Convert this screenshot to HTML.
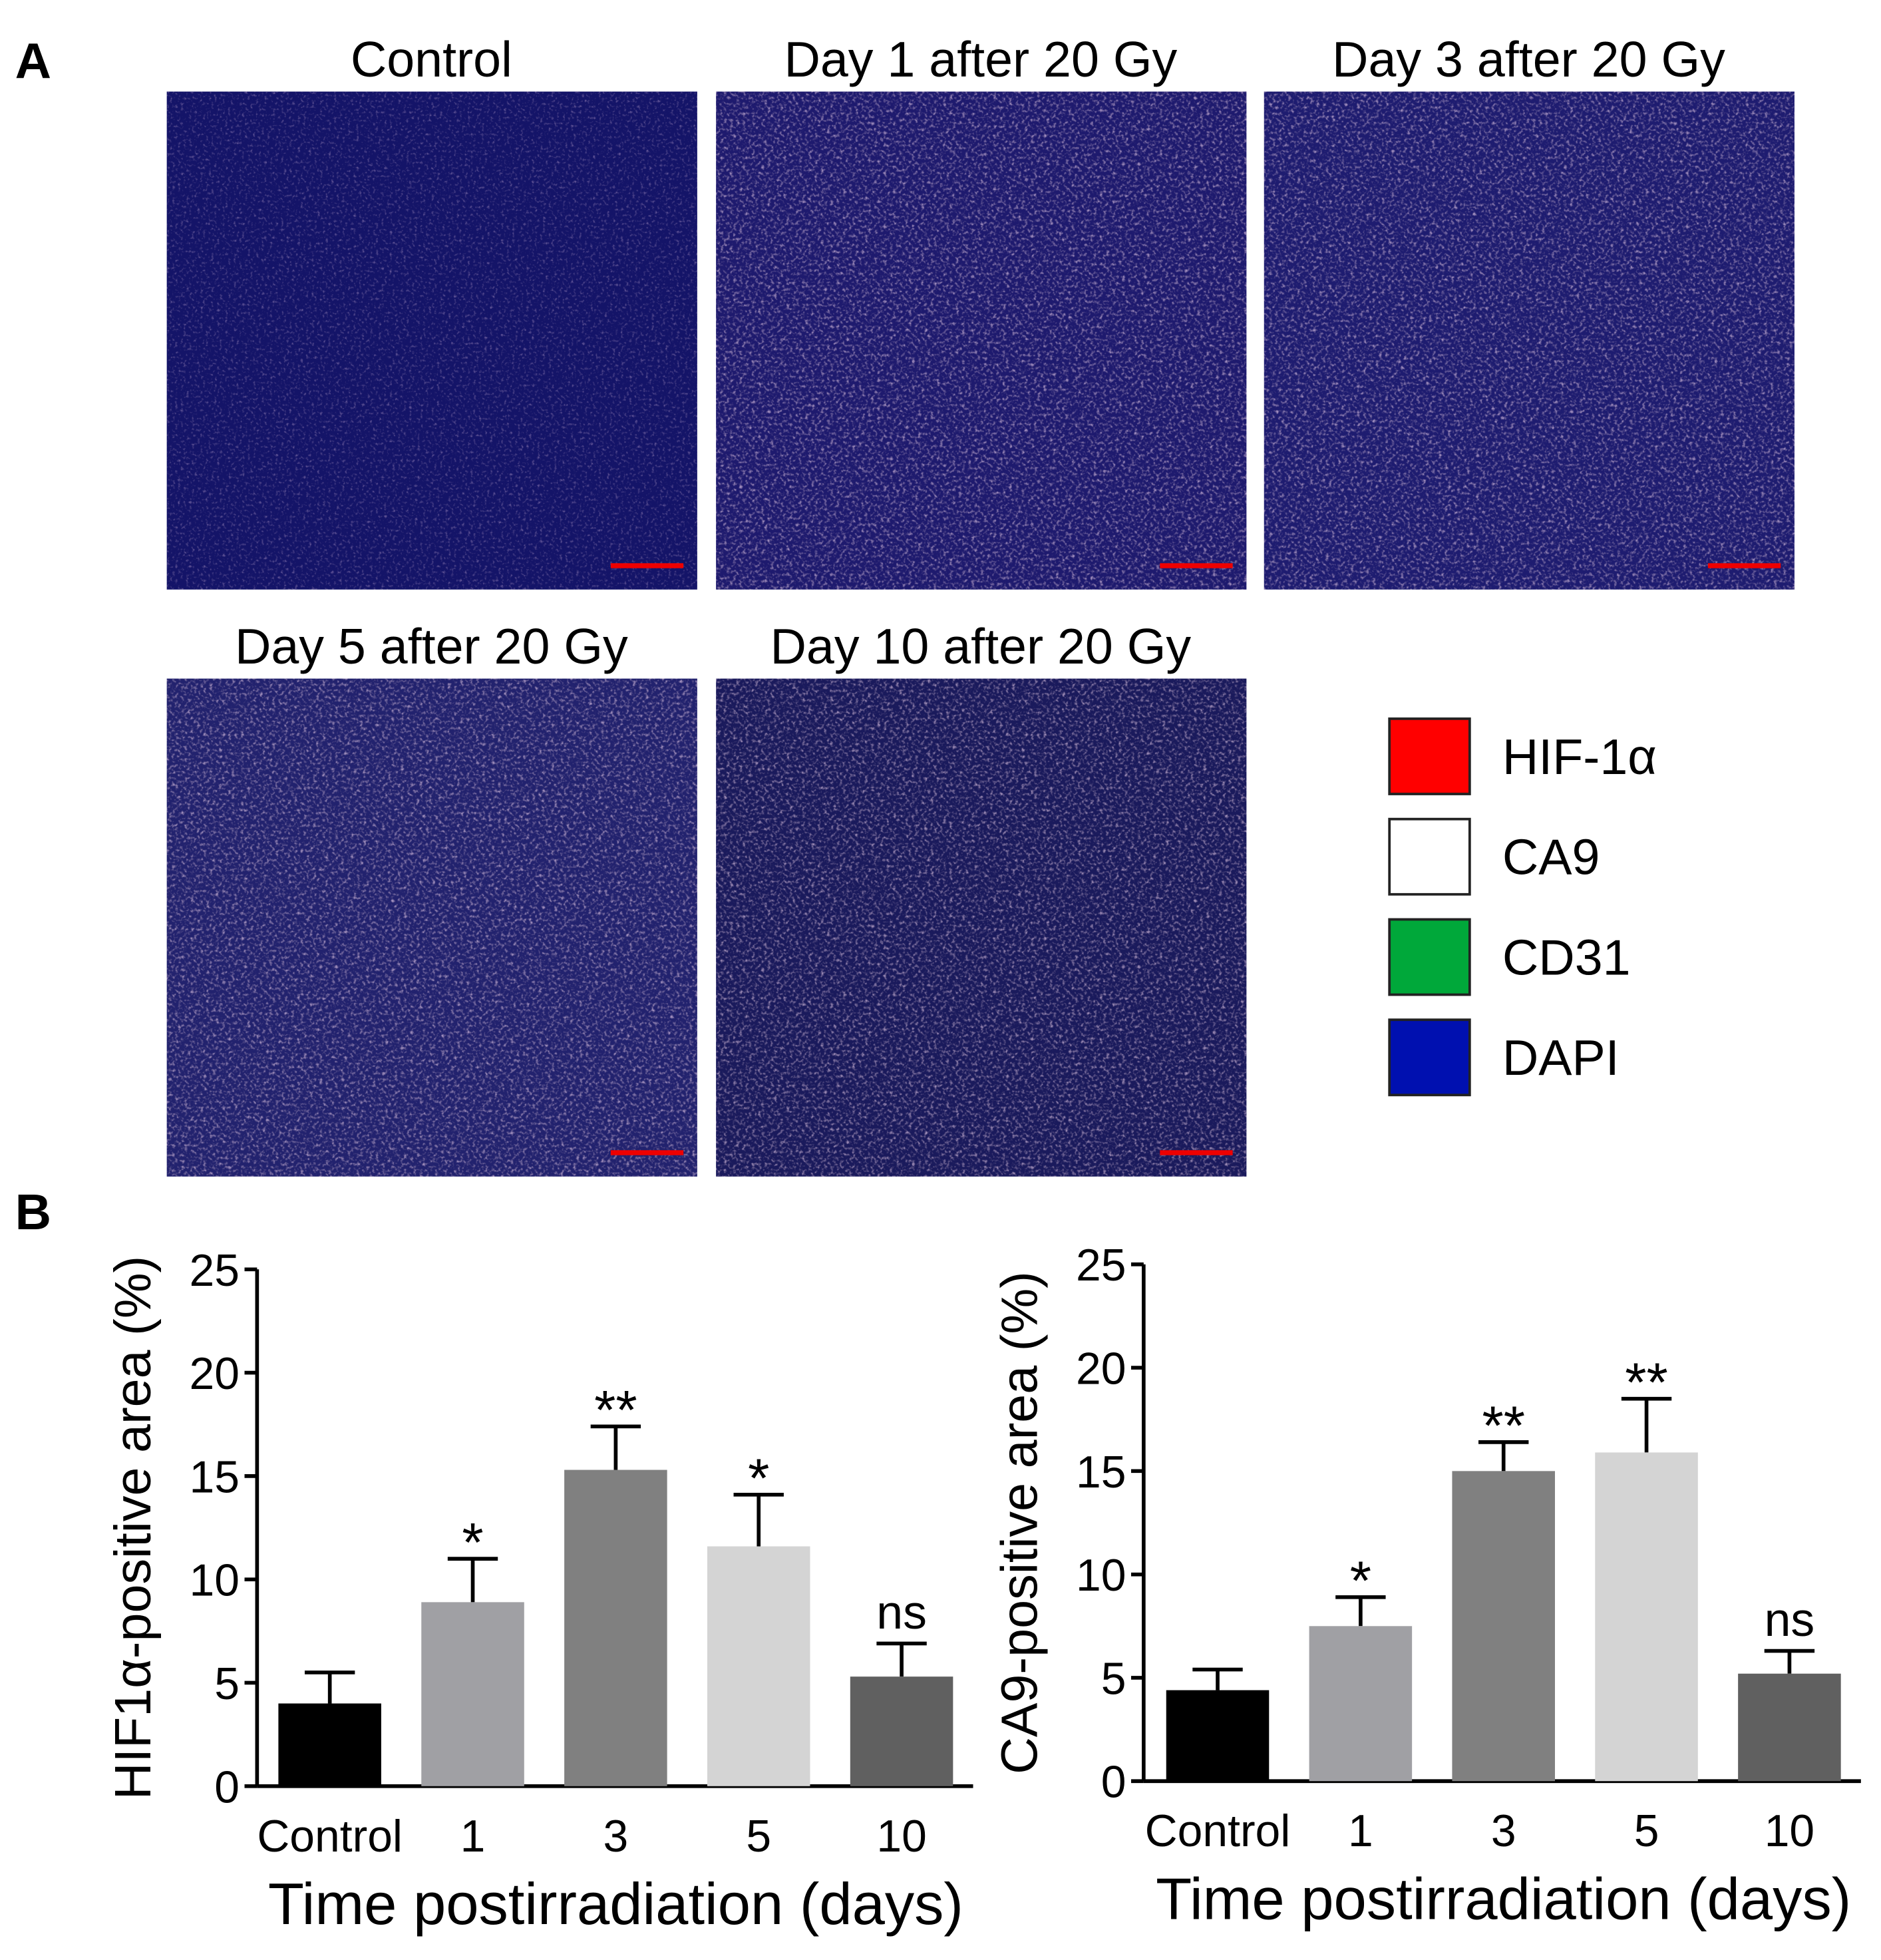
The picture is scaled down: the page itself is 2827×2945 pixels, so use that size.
<!DOCTYPE html>
<html><head><meta charset="utf-8">
<style>
html,body{margin:0;padding:0;background:#fff;}
svg{display:block;}
text{font-family:"Liberation Sans",sans-serif;}
</style></head>
<body>
<svg id="fig" width="2827" height="2945" viewBox="0 0 1500 1562.6" xmlns="http://www.w3.org/2000/svg">
<defs>
<filter id="tex" x="0" y="0" width="100%" height="100%">
<feTurbulence type="fractalNoise" baseFrequency="0.45" numOctaves="2" seed="3" result="n"/>
<feColorMatrix in="n" type="matrix" values="1 0 0 0 0  0.7 0 0 0 0  1 0 0 0 0  3 0 0 0 -1.6"/>
</filter>
<filter id="tex2" x="0" y="0" width="100%" height="100%">
<feTurbulence type="fractalNoise" baseFrequency="0.4" numOctaves="2" seed="7" result="n"/>
<feColorMatrix in="n" type="matrix" values="1 0 0 0 0  0.75 0 0 0 0  1 0 0 0 0  3 0 0 0 -1.45"/>
</filter>
</defs>
<g id="panelA">
<text x="12" y="62" font-size="40" font-weight="bold">A</text>
</g>
<g id="micro"></g>
<g id="legend"></g>
<text x="12" y="980" font-size="40" font-weight="bold">B</text>
<g id="chart1"></g>
<g id="chart2"></g>
</svg>
<script>
const NS="http://www.w3.org/2000/svg";
const categories=["Control","1","3","5","10"];
const hifValues=[4.0,8.9,15.3,11.6,5.3];
const hifErrors=[5.5,11.0,17.4,14.1,6.9];
const hifSig=["","*","**","*","ns"];
const ca9Values=[4.4,7.5,15.0,15.9,5.2];
const ca9Errors=[5.4,8.9,16.4,18.5,6.3];
const ca9Sig=["","*","**","**","ns"];
const yTicks=[0,5,10,15,20,25];
const barColors=["#000000","#a0a0a4","#808080","#d4d4d4","#606060"];
const panelTitles=["Control","Day 1 after 20 Gy","Day 3 after 20 Gy","Day 5 after 20 Gy","Day 10 after 20 Gy"];
const legendLabels=["HIF-1α","CA9","CD31","DAPI"];
const legendColors=["#ff0000","#ffffff","#00a83a","#0010b0"];

function mk(tag,attrs,parent,txt){const e=document.createElementNS(NS,tag);for(const k in attrs)e.setAttribute(k,attrs[k]);if(txt!==undefined)e.textContent=txt;parent.appendChild(e);return e;}

const micro=document.getElementById('micro');
const px=[133,571,1008,133,571],py=[73,73,73,541,541];
const bases=["#141468","#1e1a6e","#1e1c70","#22226e","#1a1a5c"];
panelTitles.forEach((t,i)=>{
  const g=mk('g',{},micro);
  
  
  mk('rect',{x:px[i],y:py[i],width:423,height:397,fill:bases[i]},g);
  mk('rect',{x:px[i],y:py[i],width:423,height:397,fill:'#000',filter:i===0?'url(#tex)':'url(#tex2)',opacity:i===0?0.35:0.6},g);
  mk('line',{x1:px[i]+354,x2:px[i]+412,y1:py[i]+378,y2:py[i]+378,stroke:'#e00',"stroke-width":4},g);
  const tt=mk('text',{x:px[i]+211,y:py[i]-12,"font-size":40,"text-anchor":"middle"},g,t);
  
  
});

const leg=document.getElementById('legend');
legendLabels.forEach((l,i)=>{
  const y=573+i*80;
  const s=mk('rect',{x:1108,y:y,width:64,height:60,fill:legendColors[i],stroke:'#222',"stroke-width":2},leg);
  
  
  const t=mk('text',{x:1198,y:y+44,"font-size":40},leg,l);
  
  
});

function chart(gid,axX,y0,yTop,firstCenter,vals,errs,sig,ytitle){
  const g=document.getElementById(gid);
  const yS=v=>y0-(y0-yTop)*v/25;
  const xC=i=>firstCenter+i*114;
  const bw=82;
  mk('line',{x1:axX,x2:axX,y1:yTop,y2:y0,stroke:'#000',"stroke-width":3},g);
  mk('line',{x1:axX,x2:xC(4)+57,y1:y0,y2:y0,stroke:'#000',"stroke-width":3},g);
  yTicks.forEach(t=>{
    mk('line',{x1:axX-10,x2:axX,y1:yS(t),y2:yS(t),stroke:'#000',"stroke-width":3},g);
    const tl=mk('text',{x:axX-14,y:yS(t)+13,"font-size":36,"text-anchor":"end"},g,String(t));
    
    
  });
  categories.forEach((c,i)=>{
    const x=xC(i);
    const eb=mk('line',{x1:x,x2:x,y1:yS(errs[i]),y2:yS(vals[i]),stroke:'#000',"stroke-width":3},g);
    
    
    mk('line',{x1:x-20,x2:x+20,y1:yS(errs[i]),y2:yS(errs[i]),stroke:'#000',"stroke-width":3},g);
    const b=mk('rect',{x:x-bw/2,y:yS(vals[i]),width:bw,height:y0-yS(vals[i]),fill:barColors[i]},g);
    
    
    if(sig[i]){
      const st=sig[i]==='ns';
      const s=mk('text',{x:x,y:yS(errs[i])-(st?12:-2),"font-size":st?38:44,"text-anchor":"middle"},g,sig[i]);
      
      
    }
    const xl=mk('text',{x:x,y:y0+52,"font-size":36,"text-anchor":"middle"},g,c);
    
    
  });
  const xt=mk('text',{x:xC(2),y:y0+110,"font-size":47,"text-anchor":"middle"},g,'Time postirradiation (days)');
  
  
  const yc=(y0+yTop)/2;
  const yt=mk('text',{x:axX-85,y:yc,"font-size":41,"text-anchor":"middle",transform:`rotate(-90 ${axX-85} ${yc})`},g,ytitle);
  
  
}
chart('chart1',205,1424,1012,263,hifValues,hifErrors,hifSig,'HIF1α-positive area (%)');
chart('chart2',912,1420,1008,971,ca9Values,ca9Errors,ca9Sig,'CA9-positive area (%)');
</script>
</body></html>
